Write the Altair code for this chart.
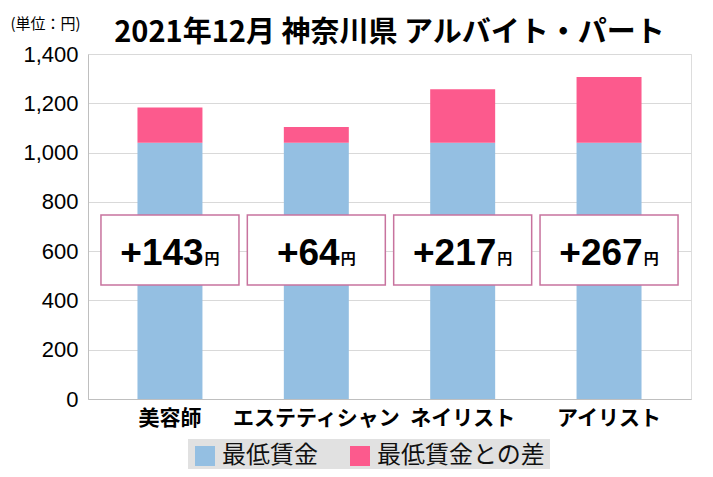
import altair as alt
import pandas as pd

categories = ["美容師", "エステティシャン", "ネイリスト", "アイリスト"]
min_wage = [1040, 1040, 1040, 1040]
diff = [143, 64, 217, 267]
series = ["最低賃金", "最低賃金との差"]
colors = ["#94BFE2", "#FC5A8D"]
y_ticks = [0, 200, 400, 600, 800, 1000, 1200, 1400]

rows = []
for c, b, d in zip(categories, min_wage, diff):
    rows.append({"cat": c, "series": series[0], "order": 0, "value": b})
    rows.append({"cat": c, "series": series[1], "order": 1, "value": d})
df = pd.DataFrame(rows)

lab = pd.DataFrame({"cat": categories, "num": ["+" + str(d) for d in diff], "yen": ["円"] * len(categories)})

JP = "Noto Sans CJK JP"
NUMF = "Liberation Sans, Arial"
NUM_SIZE = 37

xenc = alt.X("cat:N", sort=categories,
             scale=alt.Scale(paddingInner=0.556, paddingOuter=0.338),
             axis=alt.Axis(title=None, labelAngle=0, labelFont=JP, labelFontWeight="bold",
                           labelFontSize=21, labelColor="#000", labelPadding=8, ticks=False,
                           domainColor="#BFBFBF", labelLimit=300))

bars = alt.Chart(df).mark_bar().encode(
    x=xenc,
    y=alt.Y("value:Q", stack="zero",
            scale=alt.Scale(domain=[0, 1400], nice=False),
            axis=alt.Axis(values=y_ticks, format=",d", title="(単位：円)", titleAngle=0,
                          titleAlign="left", titleBaseline="middle", titleX=-78, titleY=-31,
                          titleFont=JP, titleFontSize=15, titleFontWeight="normal", titleColor="#000",
                          labelFont="Liberation Sans", labelFontSize=22, labelColor="#000",
                          labelPadding=10, ticks=False, gridColor="#D9D9D9", domainColor="#BFBFBF")),
    color=alt.Color("series:N", scale=alt.Scale(domain=series, range=colors),
                    legend=alt.Legend(title=None, orient="none", legendX=100, legendY=385,
                                      direction="horizontal", symbolType="square", symbolSize=400,
                                      symbolStrokeWidth=0, labelFont=JP, labelFontSize=24,
                                      labelColor="#111", labelOffset=5, columnPadding=30,
                                      labelLimit=400, fillColor="#E1E1E1", padding=5)),
    order=alt.Order("order:Q", sort="ascending"),
)

boxes = alt.Chart(lab).mark_bar(size=138, fill="white", stroke="#C8739E", strokeWidth=1.5).encode(
    x=alt.X("cat:N", sort=categories),
    y=alt.value(161), y2=alt.value(231),
)

layers = [bars, boxes]
for i, c in enumerate(categories):
    num = "+" + str(diff[i])
    w_num = (len(num) - 1) * 0.556 * NUM_SIZE + 0.584 * NUM_SIZE
    dx = w_num / 2 - 8
    sub = lab[lab["cat"] == c]
    layers.append(alt.Chart(sub).mark_text(align="right", baseline="alphabetic", font=NUMF,
                                           fontWeight="bold", fontSize=NUM_SIZE, color="#000", dx=dx).encode(
        x=alt.X("cat:N", sort=categories), y=alt.value(211), text="num:N"))
    layers.append(alt.Chart(sub).mark_text(align="left", baseline="alphabetic", font=JP,
                                           fontWeight="bold", fontSize=15, color="#000", dx=dx + 1).encode(
        x=alt.X("cat:N", sort=categories), y=alt.value(210), text="yen:N"))

chart = alt.layer(*layers).properties(
    width=603, height=345,
    title=alt.TitleParams("2021年12月 神奈川県 アルバイト・パート", font=JP, fontSize=29,
                          fontWeight="bold", color="#000", anchor="middle", frame="group",
                          offset=6, dy=38),
    padding={"left": 80, "top": 46, "right": 14, "bottom": 70},
    autosize="none",
).configure_view(stroke="#BFBFBF").configure(background="white")

chart.save("out.html", embed_options={"renderer": "svg", "actions": False})
